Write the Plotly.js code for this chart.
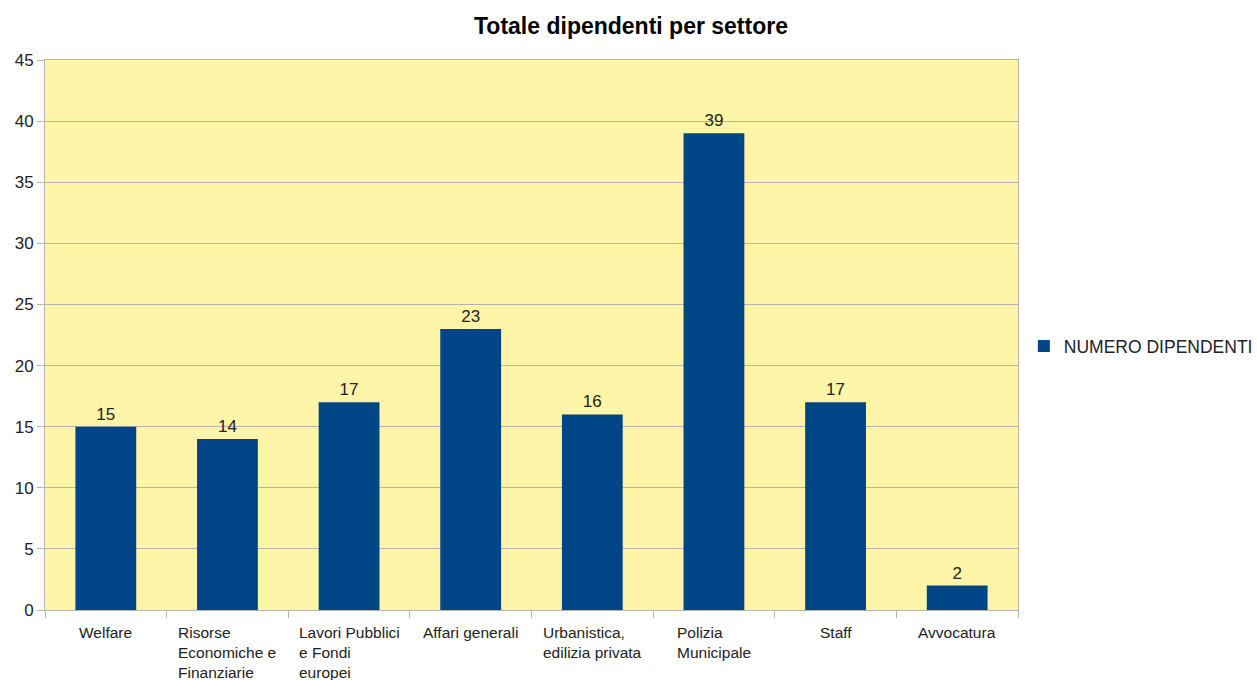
<!DOCTYPE html>
<html>
<head>
<meta charset="utf-8">
<script src="https://cdn.plot.ly/plotly-3.0.1.min.js"></script>
<style>html,body{margin:0;padding:0;background:#fff;}#chart{width:1257px;height:680px;}</style>
</head>
<body>
<div id="chart"></div>
<script>
const categories = ["Welfare", "Risorse Economiche e Finanziarie", "Lavori Pubblici e Fondi europei", "Affari generali", "Urbanistica, edilizia privata", "Polizia Municipale", "Staff", "Avvocatura"];
const categoryLabels = ["Welfare", "Risorse<br>Economiche e<br>Finanziarie", "Lavori Pubblici<br>e Fondi<br>europei", "Affari generali", "Urbanistica,<br>edilizia privata", "Polizia<br>Municipale", "Staff", "Avvocatura"];
const dipendenti = [15, 14, 17, 23, 16, 39, 17, 2];
const seriesName = "NUMERO DIPENDENTI";
const chartTitle = "Totale dipendenti per settore";

const font = "'Liberation Sans', Arial, sans-serif";
const grey = "#b3b3b3";

const trace = {
  type: "bar",
  x: categories,
  y: dipendenti,
  name: seriesName,
  marker: {color: "#004586"},
  text: dipendenti.map(String),
  textposition: "outside",
  cliponaxis: false,
  textfont: {family: font, size: 17, color: "#222"},
  showlegend: true
};

const annotations = categories.map((c, i) => ({
  x: c, xref: "x", y: 0, yref: "paper",
  yanchor: "top", xanchor: "center", yshift: -12,
  text: categoryLabels[i], showarrow: false, align: "left",
  font: {family: font, size: 15.5, color: "#222"}
}));

const layout = {
  width: 1257, height: 680,
  margin: {l: 45, r: 239, t: 60, b: 70, autoexpand: false},
  paper_bgcolor: "#ffffff",
  plot_bgcolor: "#fff5a8",
  title: {text: "<b>" + chartTitle + "</b>", x: 0.502, xref: "container", y: 0.962, yanchor: "middle",
          font: {family: font, size: 23, color: "#000"}},
  bargap: 0.5,
  xaxis: {
    type: "category",
    showticklabels: false,
    ticks: "outside", ticklen: 7, tickcolor: grey, tickson: "boundaries",
    showline: true, linecolor: grey, linewidth: 1, mirror: true,
    showgrid: false, fixedrange: true
  },
  yaxis: {
    range: [0, 45], dtick: 5, tick0: 0,
    ticks: "outside", ticklen: 7, tickcolor: grey,
    showline: true, linecolor: grey, linewidth: 1, mirror: true,
    showgrid: true, gridcolor: grey, gridwidth: 1,
    zeroline: false,
    tickfont: {family: font, size: 17, color: "#222"}
  },
  showlegend: true,
  legend: {x: 1.006, xanchor: "left", y: 0.48, yanchor: "middle",
           font: {family: font, size: 17.5, color: "#222"}, bgcolor: "rgba(0,0,0,0)"},
  annotations: annotations
};

Plotly.newPlot("chart", [trace], layout, {displayModeBar: false, staticPlot: true});
</script>
</body>
</html>
